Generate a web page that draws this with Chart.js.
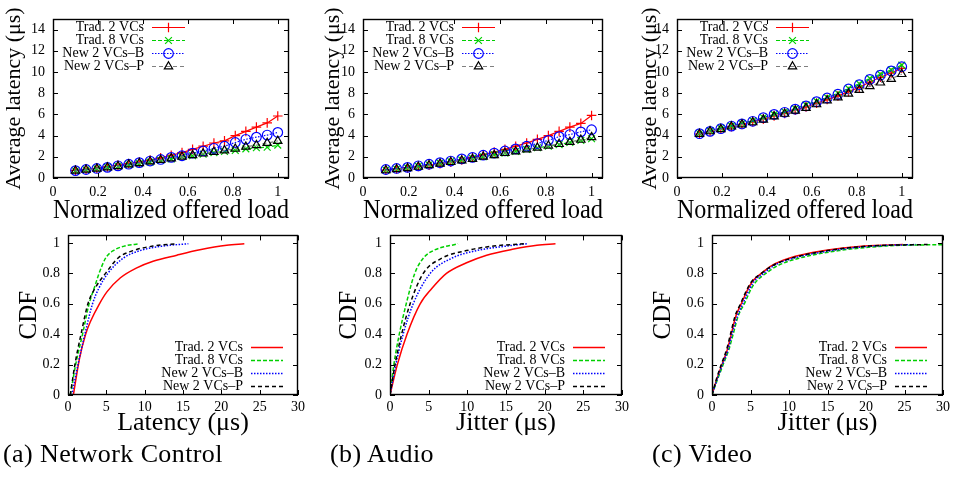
<!DOCTYPE html>
<html>
<head>
<meta charset="utf-8">
<script src="https://cdn.jsdelivr.net/npm/chart.js@4.4.1/dist/chart.umd.min.js"></script>
<style>
  body { margin: 0; background: #fff; width: 954px; height: 477px; position: relative; overflow: hidden; }
  canvas { position: absolute; }
  .cap { position: absolute; font-family: "Liberation Serif", serif; font-size: 26px; letter-spacing: 0.4px; color: #000; white-space: nowrap; }
</style>
</head>
<body>
<canvas id="c1" width="300" height="230" style="left:0;top:0"></canvas>
<canvas id="c2" width="310" height="230" style="left:320px;top:0"></canvas>
<canvas id="c3" width="300" height="230" style="left:637px;top:0"></canvas>
<canvas id="c4" width="320" height="221" style="left:0;top:219px"></canvas>
<canvas id="c5" width="320" height="221" style="left:320px;top:219px"></canvas>
<canvas id="c6" width="320" height="221" style="left:634px;top:219px"></canvas>
<div class="cap" style="left:3px;top:439px">(a) Network Control</div>
<div class="cap" style="left:330px;top:439px">(b) Audio</div>
<div class="cap" style="left:652px;top:439px">(c) Video</div>
<script>
// series names
const names = ['Trad. 2 VCs', 'Trad. 8 VCs', 'New 2 VCs\u2013B', 'New 2 VCs\u2013P'];

// normalized offered load (x of the top row)
const load = [0.1, 0.147, 0.195, 0.242, 0.289, 0.337, 0.384, 0.432, 0.479, 0.526,
              0.574, 0.621, 0.668, 0.716, 0.763, 0.811, 0.858, 0.905, 0.953, 1.0];

// average latency, network control
const ncTrad2 = [0.72, 0.82, 0.92, 1.05, 1.2, 1.35, 1.5, 1.7, 1.9, 2.15, 2.4, 2.7, 3.0, 3.3, 3.5, 4.0, 4.4, 4.8, 5.2, 5.85];
const ncTrad8 = [0.68, 0.78, 0.88, 1.0, 1.1, 1.25, 1.35, 1.5, 1.65, 1.8, 2.0, 2.1, 2.25, 2.4, 2.5, 2.6, 2.75, 2.85, 2.9, 3.1];
const ncNewB  = [0.7, 0.8, 0.9, 1.0, 1.15, 1.3, 1.45, 1.6, 1.75, 1.95, 2.1, 2.35, 2.55, 2.8, 3.0, 3.35, 3.65, 3.85, 4.05, 4.3];
const ncNewP  = [0.68, 0.78, 0.88, 1.0, 1.12, 1.27, 1.4, 1.55, 1.7, 1.85, 2.0, 2.15, 2.3, 2.45, 2.6, 2.75, 2.95, 3.1, 3.3, 3.5];

// average latency, audio
const auTrad2 = [0.75, 0.85, 0.95, 1.08, 1.2, 1.35, 1.5, 1.7, 1.95, 2.2, 2.45, 2.7, 3.0, 3.3, 3.65, 4.0, 4.4, 4.8, 5.15, 5.9];
const auTrad8 = [0.75, 0.85, 0.95, 1.1, 1.25, 1.4, 1.55, 1.7, 1.85, 2.0, 2.2, 2.35, 2.5, 2.7, 2.85, 3.0, 3.15, 3.35, 3.55, 3.7];
const auNewB  = [0.8, 0.9, 1.0, 1.15, 1.3, 1.45, 1.6, 1.8, 1.95, 2.15, 2.35, 2.55, 2.75, 3.0, 3.25, 3.55, 3.9, 4.1, 4.35, 4.55];
const auNewP  = [0.72, 0.82, 0.92, 1.05, 1.2, 1.35, 1.5, 1.65, 1.8, 2.0, 2.15, 2.35, 2.5, 2.7, 2.85, 3.05, 3.2, 3.4, 3.6, 3.85];

// average latency, video
const viTrad2 = [4.15, 4.4, 4.6, 4.85, 5.05, 5.3, 5.55, 5.85, 6.1, 6.4, 6.7, 7.05, 7.4, 7.75, 8.15, 8.55, 9.05, 9.5, 9.9, 10.35];
const viTrad8 = [4.2, 4.45, 4.7, 4.92, 5.15, 5.4, 5.7, 6.0, 6.25, 6.55, 6.9, 7.25, 7.6, 8.0, 8.45, 8.9, 9.4, 9.8, 10.2, 10.65];
const viNewB  = [4.18, 4.4, 4.65, 4.9, 5.1, 5.35, 5.7, 6.0, 6.2, 6.5, 6.8, 7.2, 7.55, 7.9, 8.4, 8.8, 9.3, 9.7, 10.1, 10.5];
const viNewP  = [4.15, 4.4, 4.6, 4.85, 5.05, 5.25, 5.5, 5.8, 6.05, 6.35, 6.6, 6.95, 7.3, 7.6, 7.95, 8.3, 8.65, 9.0, 9.35, 9.8];

// latency CDF, network control
const ncCdfTrad2X = [0.7, 1.5, 2.3, 2.9, 4.1, 5.1, 6.8, 8.9, 11.1, 14.2, 17.2, 20.7, 23.0];
const ncCdfTrad2Y = [0, 0.24, 0.4, 0.48, 0.6, 0.68, 0.77, 0.835, 0.88, 0.92, 0.955, 0.985, 0.995];
const ncCdfTrad8X = [0.3, 1.0, 1.9, 2.75, 3.4, 4.05, 4.9, 5.9, 7.4, 9.3];
const ncCdfTrad8Y = [0, 0.2, 0.4, 0.6, 0.7, 0.8, 0.9, 0.95, 0.98, 0.995];
const ncCdfNewBX  = [0.5, 1.3, 2.2, 3.2, 4.0, 5.2, 7.2, 9.4, 12.4, 15.7];
const ncCdfNewBY  = [0, 0.2, 0.4, 0.6, 0.7, 0.8, 0.9, 0.95, 0.98, 0.995];
const ncCdfNewPX  = [0.3, 0.9, 1.7, 2.6, 3.5, 4.9, 6.5, 8.5, 11.1, 14.2];
const ncCdfNewPY  = [0, 0.2, 0.4, 0.6, 0.7, 0.8, 0.9, 0.95, 0.98, 0.995];

// jitter CDF, audio
const auCdfTrad2X = [0, 0.95, 2.2, 3.9, 5.4, 7.3, 9.9, 12.5, 16.0, 19.0, 21.4];
const auCdfTrad2Y = [0, 0.2, 0.4, 0.6, 0.7, 0.8, 0.87, 0.92, 0.96, 0.985, 0.995];
const auCdfTrad8X = [0, 0.5, 1.2, 2.1, 3.2, 4.3, 5.6, 8.8];
const auCdfTrad8Y = [0, 0.2, 0.4, 0.6, 0.8, 0.9, 0.95, 0.995];
const auCdfNewBX  = [0, 0.75, 1.7, 3.0, 5.2, 8.0, 11.2, 15.1, 17.7];
const auCdfNewBY  = [0, 0.2, 0.4, 0.6, 0.8, 0.9, 0.95, 0.98, 0.995];
const auCdfNewPX  = [0, 0.65, 1.5, 2.6, 4.3, 6.7, 9.9, 13.4, 17.3];
const auCdfNewPY  = [0, 0.2, 0.4, 0.6, 0.8, 0.9, 0.95, 0.98, 0.995];

// jitter CDF, video
const viCdfY      = [0, 0.1, 0.2, 0.3, 0.4, 0.52, 0.6, 0.7, 0.75, 0.8, 0.85, 0.9, 0.95, 0.98, 0.99];
const viCdfTrad2X = [0, 0.6, 1.3, 2.0, 2.5, 3.1, 3.8, 4.7, 5.3, 6.4, 7.7, 10.0, 14.6, 19.8, 24.8];
const viCdfTrad8X = [0, 0.7, 1.45, 2.2, 2.75, 3.4, 4.2, 5.1, 5.8, 7.0, 8.5, 11.3, 16.5, 22.5, 31];
const viCdfNewBX  = [0, 0.65, 1.35, 2.1, 2.6, 3.3, 4.0, 4.9, 5.5, 6.7, 8.0, 10.6, 15.5, 21.0, 26.5];
const viCdfNewPX  = [0, 0.55, 1.2, 1.9, 2.4, 3.0, 3.7, 4.6, 5.2, 6.4, 7.8, 10.3, 15.0, 20.4, 28.0];

const SERIF = '"Liberation Serif", "Times New Roman", serif';
Chart.defaults.font.family = SERIF;
Chart.defaults.color = '#000';

const lineColors = ['#ff0000', '#00d000', '#0000ff', '#808080'];
const markColors = ['#ff0000', '#00d000', '#0000ff', '#000000'];
const cdfColors  = ['#ff0000', '#00d000', '#0000ff', '#000000'];
const dashes     = [[], [4, 2], [1.5, 1.5], [4, 3]];
const marks      = ['cross', 'crossRot', 'circle', 'triangle'];

// gnuplot style frame with mirrored inner ticks
const frame = {
  id: 'frame',
  afterDraw(chart) {
    const {ctx, chartArea: a, scales} = chart;
    ctx.save();
    ctx.strokeStyle = '#000';
    ctx.lineWidth = 1;
    ctx.beginPath();
    scales.x.ticks.forEach(t => {
      const p = Math.round(scales.x.getPixelForValue(t.value)) + 0.5;
      ctx.moveTo(p, a.bottom); ctx.lineTo(p, a.bottom - 5);
      ctx.moveTo(p, a.top); ctx.lineTo(p, a.top + 5);
    });
    scales.y.ticks.forEach(t => {
      const p = Math.round(scales.y.getPixelForValue(t.value)) + 0.5;
      ctx.moveTo(a.left, p); ctx.lineTo(a.left + 5, p);
      ctx.moveTo(a.right, p); ctx.lineTo(a.right - 5, p);
    });
    ctx.stroke();
    ctx.lineWidth = 1.4;
    ctx.strokeRect(Math.round(a.left) + 0.5, Math.round(a.top) + 0.5, Math.round(a.width) - 1, Math.round(a.height) - 1);
    ctx.restore();
  }
};

// key drawn inside the plot, text then sample
const key = {
  id: 'key',
  afterDatasetsDraw(chart, args, o) {
    const {ctx, chartArea: a} = chart;
    ctx.save();
    ctx.font = '14px ' + SERIF;
    ctx.textAlign = 'right';
    ctx.textBaseline = 'middle';
    chart.data.datasets.forEach((ds, i) => {
      const y = Math.round(a.top + o.top + i * o.gap) + 0.5;
      const tx = a.left + o.textRight;
      ctx.fillStyle = '#000';
      ctx.fillText(ds.label, tx, y);
      const x0 = tx + 8, x1 = x0 + o.len;
      ctx.strokeStyle = ds.borderColor;
      ctx.lineWidth = ds.borderWidth;
      ctx.setLineDash(ds.borderDash || []);
      ctx.beginPath(); ctx.moveTo(x0, y); ctx.lineTo(x1, y); ctx.stroke();
      ctx.setLineDash([]);
      if (o.markers) {
        ctx.strokeStyle = ds.pointBorderColor;
        ctx.fillStyle = ds.pointBackgroundColor;
        ctx.lineWidth = ds.pointBorderWidth;
        Chart.helpers.drawPoint(ctx, {pointStyle: ds.pointStyle, radius: ds.pointRadius, borderWidth: ds.pointBorderWidth, rotation: 0}, (x0 + x1) / 2, y);
      }
    });
    ctx.restore();
  }
};

const fmt = v => String(+v.toFixed(2));

function makeChart(id, datasets, cfg) {
  return new Chart(document.getElementById(id), {
    type: 'line',
    data: {datasets},
    plugins: [frame, key],
    options: {
      responsive: false,
      animation: false,
      devicePixelRatio: 1,
      layout: {padding: {top: cfg.padTop, right: cfg.padRight, left: 0, bottom: 0}},
      plugins: {
        legend: {display: false},
        tooltip: {enabled: false},
        key: cfg.key
      },
      scales: {
        x: {
          type: 'linear', min: cfg.xMin, max: cfg.xMax,
          grid: {display: false, drawTicks: false},
          border: {display: false},
          ticks: {stepSize: cfg.xStep, includeBounds: false, font: {family: SERIF, size: 14}, padding: cfg.xTickPad, maxRotation: 0, callback: fmt},
          title: {display: true, text: cfg.xTitle, font: {family: SERIF, size: cfg.xTitleSize}, padding: {top: 0, bottom: cfg.xTitlePad}},
          afterFit(s) { s.height = cfg.xHeight; }
        },
        y: {
          type: 'linear', min: 0, max: cfg.yMax,
          grid: {display: false, drawTicks: false},
          border: {display: false},
          ticks: {stepSize: cfg.yStep, includeBounds: false, font: {family: SERIF, size: 14}, padding: 8, callback: fmt},
          title: {display: true, text: cfg.yTitle, font: {family: SERIF, size: cfg.yTitleSize}, padding: {top: cfg.yTitlePad, bottom: 0}},
          afterFit(s) { s.width = cfg.yWidth; }
        }
      }
    }
  });
}

function loadSets(arrs) {
  return arrs.map((a, i) => ({
    label: names[i],
    data: load.map((x, k) => ({x, y: a[k]})),
    borderColor: lineColors[i],
    borderWidth: 1.2,
    borderDash: dashes[i],
    pointStyle: marks[i],
    pointRadius: 4.8,
    pointBorderColor: markColors[i],
    pointBackgroundColor: 'rgba(0,0,0,0)',
    pointBorderWidth: 1.2,
    order: 4 - i
  }));
}

function cdfSets(xs, ys) {
  return xs.map((xa, i) => ({
    label: names[i],
    data: xa.map((x, k) => ({x, y: ys[i][k]})),
    borderColor: cdfColors[i],
    borderWidth: 1.5,
    borderDash: dashes[i],
    pointRadius: 0,
    cubicInterpolationMode: 'monotone',
    order: 4 - i
  }));
}

const topCfg = {
  xMin: 0, xMax: 1.05, xStep: 0.2, yMax: 15, yStep: 2,
  padTop: 19, xHeight: 52, xTickPad: 6, xTitlePad: 3,
  xTitle: 'Normalized offered load', xTitleSize: 27,
  yTitle: 'Average latency (\u03bcs)', yTitleSize: 22,
  key: {top: 8, gap: 13, textRight: 91, len: 33, markers: true}
};
// chart area of the bottom row: top 16 (tick label padding), bottom 176
const botCfg = {
  xMin: 0, xMax: 30, xStep: 5, yMax: 1.05, yStep: 0.2,
  padTop: 10, xHeight: 45, xTickPad: 4, xTitlePad: 1, xTitleSize: 26,
  yTitle: 'CDF', yTitleSize: 25,
  key: {top: 112, gap: 12.7, textRight: 175, len: 32, markers: false}
};

makeChart('c1', loadSets([ncTrad2, ncTrad8, ncNewB, ncNewP]), {...topCfg, yWidth: 53, padRight: 11, yTitlePad: 1});
makeChart('c2', loadSets([auTrad2, auTrad8, auNewB, auNewP]), {...topCfg, yWidth: 43, padRight: 27, yTitlePad: 0});
makeChart('c3', loadSets([viTrad2, viTrad8, viNewB, viNewP]), {...topCfg, yWidth: 40, padRight: 24, yTitlePad: 0});

makeChart('c4', cdfSets([ncCdfTrad2X, ncCdfTrad8X, ncCdfNewBX, ncCdfNewPX], [ncCdfTrad2Y, ncCdfTrad8Y, ncCdfNewBY, ncCdfNewPY]),
  {...botCfg, xTitle: 'Latency (\u03bcs)', yWidth: 68, padRight: 22, yTitlePad: 14});
makeChart('c5', cdfSets([auCdfTrad2X, auCdfTrad8X, auCdfNewBX, auCdfNewPX], [auCdfTrad2Y, auCdfTrad8Y, auCdfNewBY, auCdfNewPY]),
  {...botCfg, xTitle: 'Jitter (\u03bcs)', yWidth: 70, padRight: 18, yTitlePad: 14});
makeChart('c6', cdfSets([viCdfTrad2X, viCdfTrad8X, viCdfNewBX, viCdfNewPX], [viCdfY, viCdfY, viCdfY, viCdfY]),
  {...botCfg, xTitle: 'Jitter (\u03bcs)', yWidth: 78, padRight: 11, yTitlePad: 14});
</script>
</body>
</html>
